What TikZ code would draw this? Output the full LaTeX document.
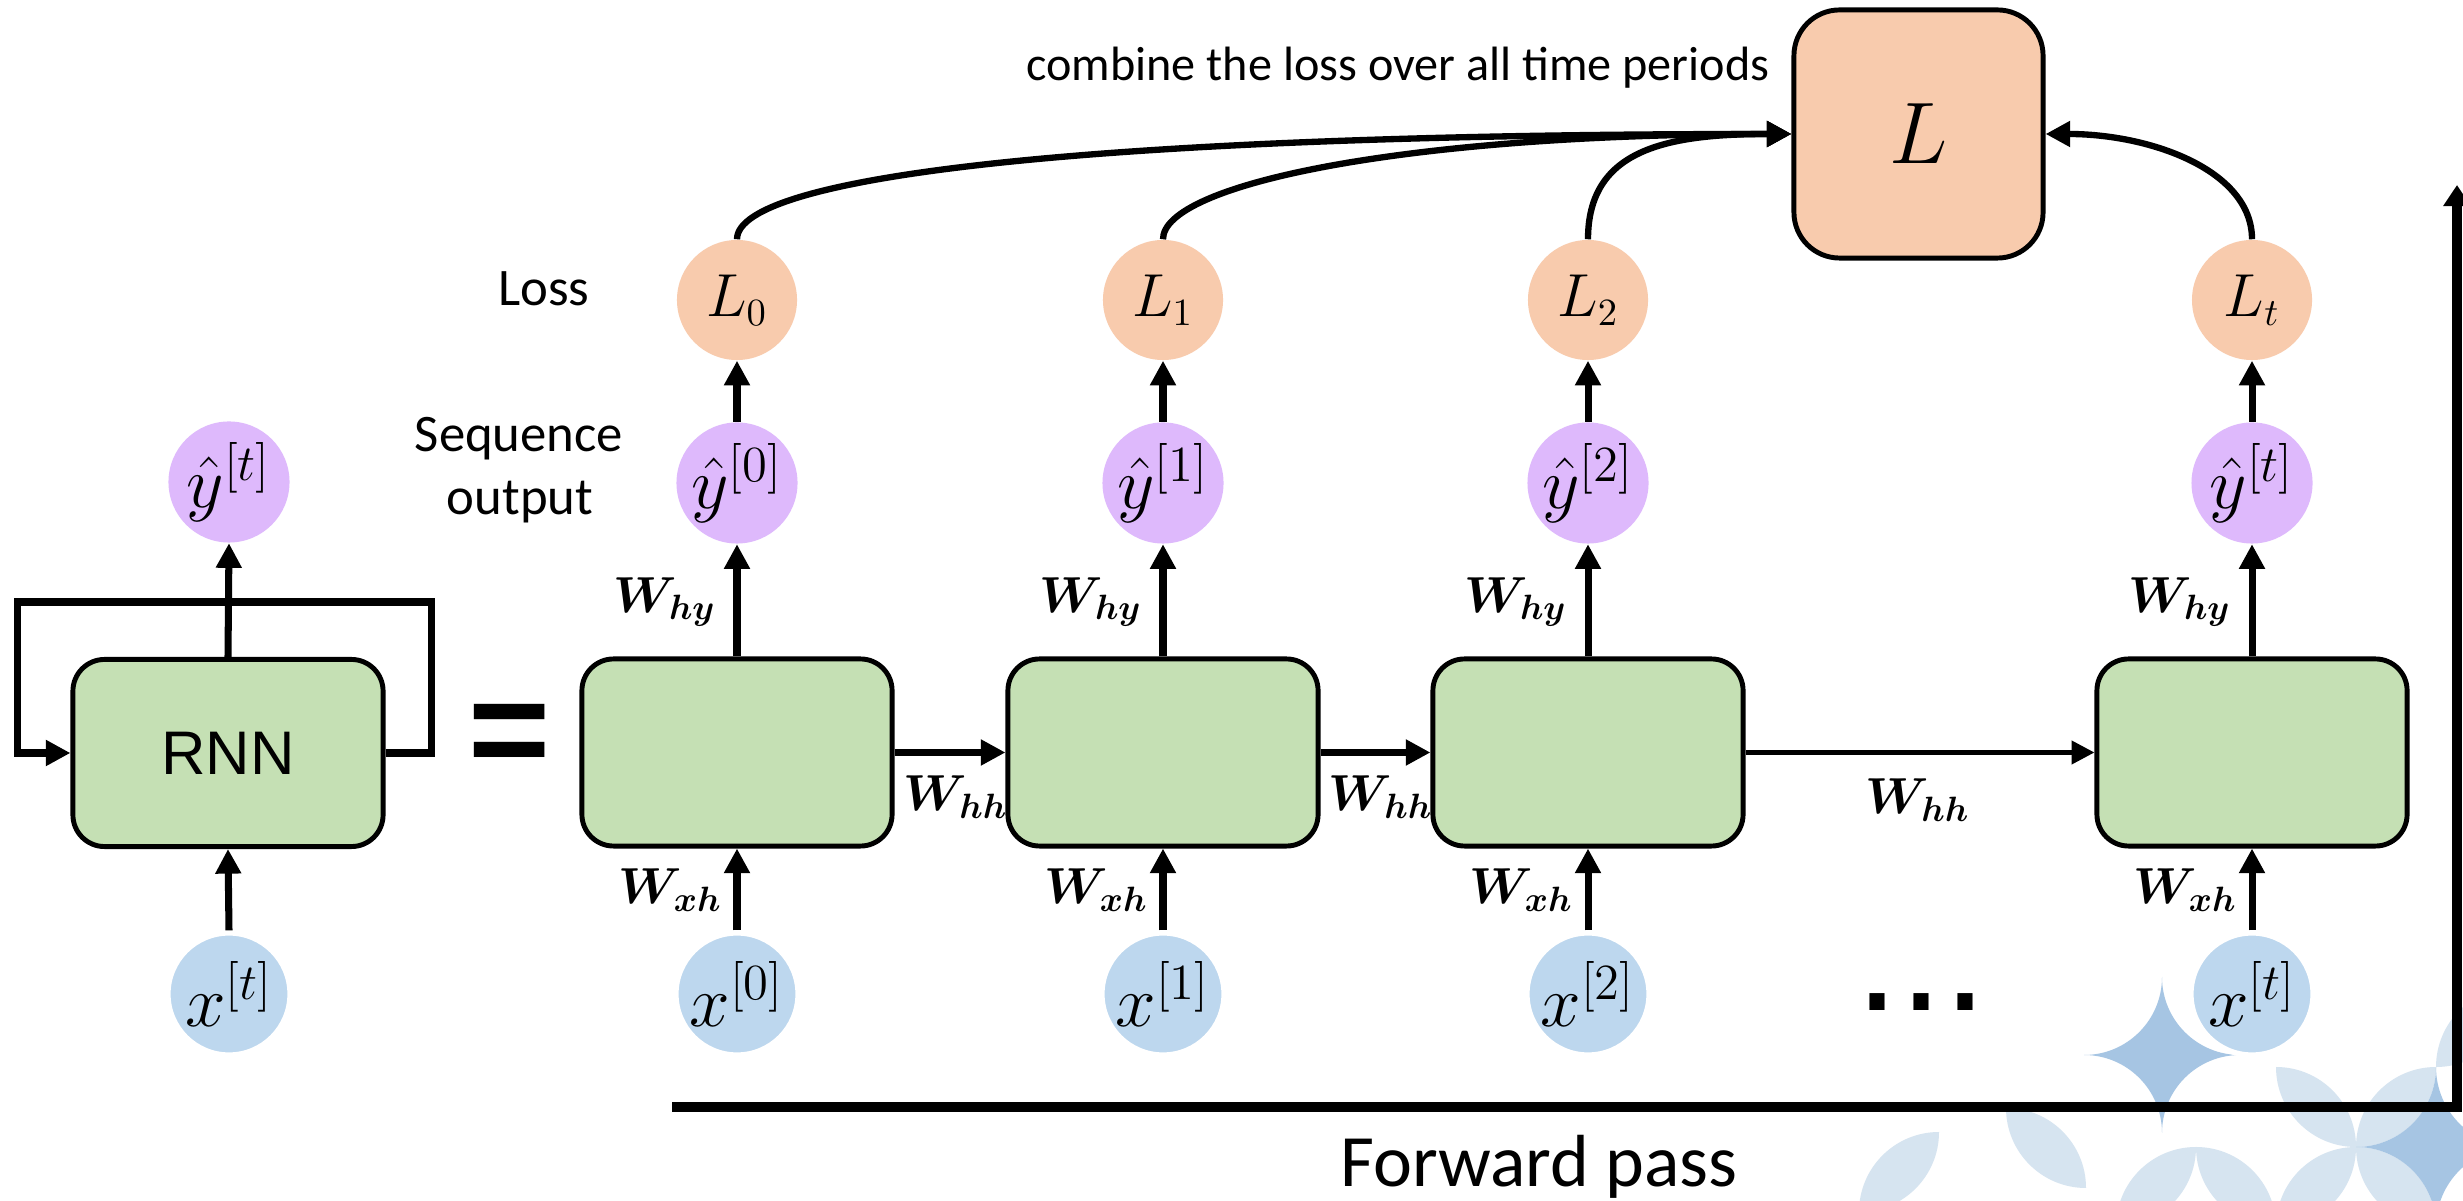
\documentclass[tikz,border=0pt]{standalone}
\usepackage{amsmath,bm}
\usepackage[no-math]{fontspec}
\setmainfont{Carlito}
\newfontfamily\arialfont{Liberation Sans}
\usetikzlibrary{arrows.meta,calc}

\definecolor{boxgreen}{HTML}{C5E0B4}
\definecolor{outpurple}{HTML}{DEB9FC}
\definecolor{lossorange}{HTML}{F8CBAD}
\definecolor{inblue}{HTML}{BDD7EE}
\definecolor{petalcol}{HTML}{D6E4F0}
\definecolor{starcol}{HTML}{A6C5E3}

\newcommand{\fsz}[1]{\fontsize{#1}{#1}\selectfont}

% diagonal lens between two tips (x1,y1) and (x2,y2), |dx| = |dy|
\newcommand{\leafshape}[4]{%
  \pgfmathsetmacro\ldx{#3-#1}\pgfmathsetmacro\ldy{#4-#2}%
  \fill[petalcol] (#1,#2) .. controls ({#1},{#2+0.5523*\ldy}) and ({#3-0.5523*\ldx},{#4}) .. (#3,#4)
    .. controls ({#3},{#4-0.5523*\ldy}) and ({#1+0.5523*\ldx},{#2}) .. cycle;}

% four-pointed concave star, centre (cx,cy), half extent a
\newcommand{\starshape}[3]{%
  \pgfmathsetmacro\sk{0.5523*#3}%
  \fill[starcol] (#1,{#2-#3}) .. controls (#1,{#2-#3+\sk}) and ({#1+#3-\sk},#2) .. ({#1+#3},#2)
    .. controls ({#1+#3-\sk},#2) and (#1,{#2+#3-\sk}) .. (#1,{#2+#3})
    .. controls (#1,{#2+#3-\sk}) and ({#1-#3+\sk},#2) .. ({#1-#3},#2)
    .. controls ({#1-#3+\sk},#2) and (#1,{#2-#3+\sk}) .. cycle;}

\tikzset{
  rnnbox/.style={draw=black, line width=1.4pt, fill=boxgreen, rounded corners=9pt,
    minimum width=3.1cm, minimum height=1.87cm, inner sep=0pt},
  outc/.style={circle, fill=outpurple, minimum size=1.21cm, inner sep=0pt, font=\fsz{20}},
  lossc/.style={circle, fill=lossorange, minimum size=1.2cm, inner sep=0pt, font=\fsz{16}},
  inc/.style={circle, fill=inblue, draw=white, line width=1.5pt, minimum size=1.22cm,
    inner sep=0pt, font=\fsz{20}},
  flow/.style={-{Triangle[length=7pt,width=7pt]}, line width=2pt},
  thinflow/.style={-{Triangle[length=6.5pt,width=6.5pt]}, line width=1.3pt},
  curveflow/.style={-{Triangle[length=7pt,width=7pt]}, line width=1.8pt},
  wlab/.style={font=\fsz{14}, inner sep=0pt},
  txtlbl/.style={font=\fsz{15}, inner sep=0pt},
}

\begin{document}
\begin{tikzpicture}[x=0.01cm, y=-0.01cm]
\useasboundingbox (0,0) rectangle (2463,1201);
\fill[white] (0,0) rectangle (2463,1201);
\clip (0,0) rectangle (2463,1201);

% corner ornament
\leafshape{1939}{1132}{1859}{1212}
\leafshape{2006}{1108}{2086}{1188}
\leafshape{2196}{1147}{2116}{1227}
\leafshape{2196}{1147}{2276}{1227}
\leafshape{2356}{1147}{2276}{1067}
\leafshape{2356}{1147}{2436}{1067}
\leafshape{2356}{1147}{2276}{1227}
\leafshape{2356}{1147}{2436}{1227}
\leafshape{2436}{1067}{2516}{987}
\starshape{2162}{1055}{78}
\starshape{2436}{1147}{80}

% folded cell with its recurrent loop
\node[rnnbox] (rnn) at (228,753) {\arialfont\fsz{17.5}RNN};
\node[outc] (yl) at (229,482) {$\hat{y}^{[t]}$};
\node[inc] (xl) at (229,994) {$x^{[t]}$};
\draw[flow] (rnn.north) -- (yl.south);
\draw[flow] (xl.north) -- (rnn.south);
\draw[flow, line join=miter] (rnn.east) -- ++(46,0) -- ++(0,-151) -- ++(-414,0) -- ++(0,151) -- (rnn.west);

\node[font=\arialfont\bfseries\fsz{40}, inner sep=0pt] (eq) at (510,741) {=};

% side labels
\node[txtlbl, anchor=base] (losslbl) at (544,306) {Loss};
\node[txtlbl, anchor=base] (seqlbl) at (519,452) {Sequence};
\node[txtlbl, anchor=base] (outlbl) at (520,515) {output};
\node[anchor=base east, font=\fsz{13.7}, inner sep=0pt] (comb) at (1770,81) {combine the loss over all time periods};

% unrolled time steps
\foreach \i/\cx in {0/737, 1/1163, 2/1588, t/2252}{
  \node[rnnbox] (h\i) at (\cx,752.5) {};
  \node[outc] (y\i) at (\cx,483) {$\hat{y}^{[\i]}$};
  \node[lossc] (l\i) at (\cx,300) {$L_{\i}$};
  \node[inc] (x\i) at (\cx,994) {$x^{[\i]}$};
  \draw[flow] (h\i.north) -- (y\i.south);
  \draw[flow] (y\i.north) -- (l\i.south);
  \draw[flow] (x\i.north) -- (h\i.south);
  \node[wlab, anchor=east] (why\i) at (\cx-20,602) {$\bm{W_{hy}}$};
  \node[wlab, anchor=east] (wxh\i) at (\cx-14,890) {$\bm{W_{xh}}$};
}

\draw[flow] (h0) -- (h1);
\draw[flow] (h1) -- (h2);
\draw[thinflow] (h2) -- (ht);
\node[wlab] (whh0) at (956,797) {$\bm{W_{hh}}$};
\node[wlab] (whh1) at (1381,797) {$\bm{W_{hh}}$};
\node[wlab] (whh2) at (1918,800) {$\bm{W_{hh}}$};

\node[anchor=base, font=\arialfont\fsz{45}, inner sep=0pt] (dots) at (1921,1011) {...};

% total loss
\node[draw=black, line width=1.4pt, fill=lossorange, rounded corners=13pt,
  minimum width=2.49cm, minimum height=2.48cm, font=\fsz{33}] (Lbox) at (1918.5,134) {$L$};
\draw[curveflow] (l0.north) .. controls (737,175) and (1100,134) .. (Lbox.west);
\draw[curveflow] (l1.north) .. controls (1163,185) and (1400,134) .. (Lbox.west);
\draw[curveflow] (l2.north) .. controls (1588,150) and (1665,134) .. (Lbox.west);
\draw[curveflow] (lt.north) .. controls (2252,170) and (2150,134) .. (Lbox.east);

% forward pass axis
\coordinate (fpstart) at (672,1107);
\coordinate (fpcorner) at (2457,1107);
\coordinate (fpend) at (2457,185);
\draw[line width=2.8pt, line join=miter, -{Triangle[length=6pt,width=7.5pt]}] (fpstart) -- (fpcorner) -- (fpend);
\node[anchor=base, font=\fsz{21}, inner sep=0pt] (fwd) at (1539,1187) {Forward pass};
\end{tikzpicture}
\end{document}
